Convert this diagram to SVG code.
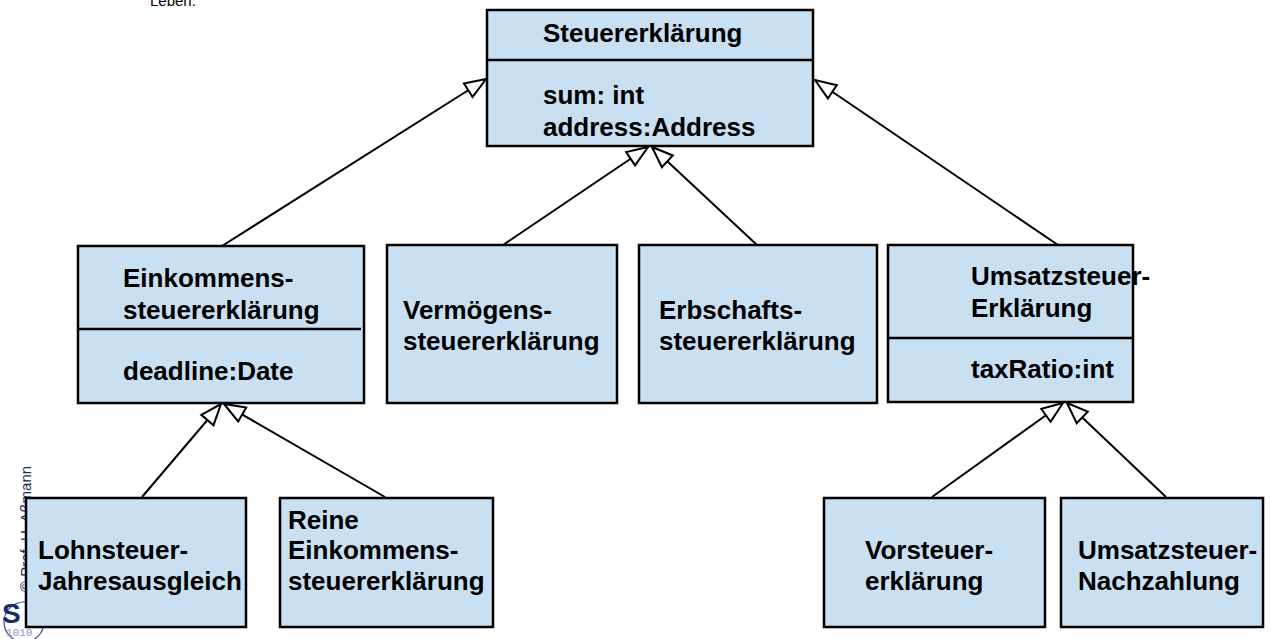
<svg xmlns="http://www.w3.org/2000/svg" width="1271" height="639" viewBox="0 0 1271 639">
<style>
.box{fill:#c9dff2;stroke:#000;stroke-width:2.5}
.div{stroke:#000;stroke-width:2.5}
.t{font-family:"Liberation Sans",Arial,sans-serif;font-weight:bold;font-size:26px;fill:#000}
.conn{stroke:#000;stroke-width:2;fill:none;marker-end:url(#gen)}
</style>
<defs>
<marker id="gen" markerUnits="userSpaceOnUse" viewBox="0 0 24 18" markerWidth="24" markerHeight="18" refX="22" refY="9" orient="auto" overflow="visible">
<path d="M22,9 L1,1 L1,17 Z" fill="#fff" stroke="#000" stroke-width="2" stroke-linejoin="miter"/>
</marker>
</defs>
<rect width="1271" height="639" fill="#fff"/>
<text x="150" y="6" font-family="Liberation Sans,Arial,sans-serif" font-size="15" fill="#000">Leben.</text>
<g id="copyright">
<text transform="translate(31,592) rotate(-90)" font-family="Liberation Sans,Arial,sans-serif" font-size="15" fill="#1a2a5a">© Prof. U. Aßmann</text>
<circle cx="24" cy="622" r="20" fill="none" stroke="#3a4a8a" stroke-width="1.2"/>
<text x="2" y="623" font-family="Liberation Sans,Arial,sans-serif" font-weight="bold" font-size="28" fill="#1a2a6a">S</text>
<text x="6" y="636" font-family="Liberation Mono,monospace" font-size="11" fill="#8a94c0">1010</text>
</g>
<g id="connectors">
<line class="conn" x1="222" y1="246" x2="486" y2="79"/>
<line class="conn" x1="503" y1="245" x2="648" y2="147"/>
<line class="conn" x1="757" y1="245" x2="652" y2="147"/>
<line class="conn" x1="1058" y1="245" x2="815" y2="80"/>
<line class="conn" x1="142" y1="497" x2="221" y2="404"/>
<line class="conn" x1="385" y1="497" x2="224" y2="404"/>
<line class="conn" x1="932" y1="497" x2="1063" y2="403"/>
<line class="conn" x1="1166" y1="497" x2="1067" y2="403"/>
</g>
<g id="steuererklaerung">
<rect class="box" x="487" y="10" width="326" height="136"/>
<line class="div" x1="487" y1="60" x2="813" y2="60"/>
<text class="t" x="543" y="42">Steuererklärung</text>
<text class="t" x="543" y="104">sum: int</text>
<text class="t" x="543" y="136">address:Address</text>
</g>
<g id="einkommens">
<rect class="box" x="78" y="246" width="286" height="157"/>
<line class="div" x1="78" y1="329" x2="361" y2="329"/>
<text class="t" x="123" y="287">Einkommens-</text>
<text class="t" x="123" y="319">steuererklärung</text>
<text class="t" x="123" y="380">deadline:Date</text>
</g>
<g id="vermoegens">
<rect class="box" x="387" y="245" width="230" height="158"/>
<text class="t" x="403" y="319">Vermögens-</text>
<text class="t" x="403" y="350">steuererklärung</text>
</g>
<g id="erbschafts">
<rect class="box" x="639" y="245" width="238" height="158"/>
<text class="t" x="659" y="319">Erbschafts-</text>
<text class="t" x="659" y="350">steuererklärung</text>
</g>
<g id="umsatzsteuer">
<rect class="box" x="888" y="245" width="245" height="157"/>
<line class="div" x1="888" y1="338" x2="1133" y2="338"/>
<text class="t" x="971" y="285">Umsatzsteuer-</text>
<text class="t" x="971" y="317">Erklärung</text>
<text class="t" x="971" y="378">taxRatio:int</text>
</g>
<g id="lohnsteuer">
<rect class="box" x="26" y="498" width="220" height="129"/>
<text class="t" x="38" y="559">Lohnsteuer-</text>
<text class="t" x="38" y="590">Jahresausgleich</text>
</g>
<g id="reine">
<rect class="box" x="280" y="498" width="213" height="129"/>
<text class="t" x="288" y="529">Reine</text>
<text class="t" x="288" y="559">Einkommens-</text>
<text class="t" x="288" y="590">steuererklärung</text>
</g>
<g id="vorsteuer">
<rect class="box" x="824" y="498" width="221" height="129"/>
<text class="t" x="865" y="559">Vorsteuer-</text>
<text class="t" x="865" y="590">erklärung</text>
</g>
<g id="nachzahlung">
<rect class="box" x="1061" y="498" width="202" height="129"/>
<text class="t" x="1078" y="559">Umsatzsteuer-</text>
<text class="t" x="1078" y="590">Nachzahlung</text>
</g>
</svg>
